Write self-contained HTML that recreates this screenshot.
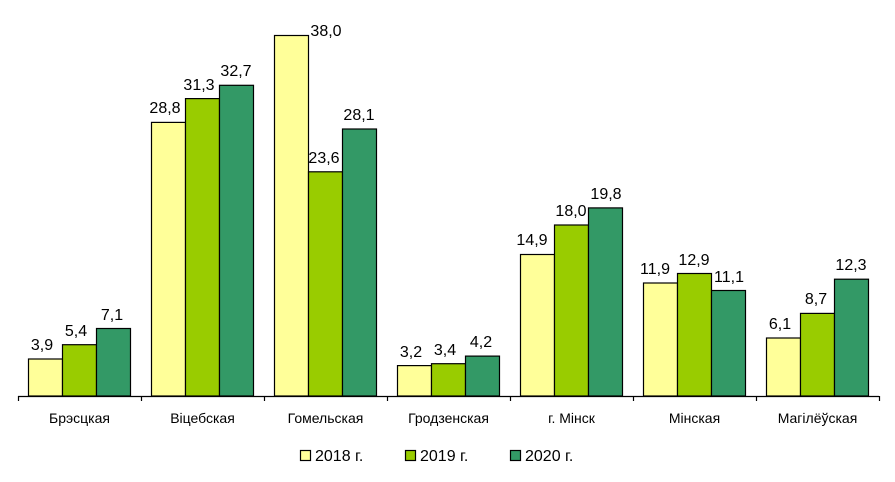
<!DOCTYPE html>
<html><head><meta charset="utf-8"><style>
html,body{margin:0;padding:0;background:#fff}
svg text{font-family:"Liberation Sans",Arial,sans-serif;fill:#000}
</style></head><body>
<svg width="895" height="477" xmlns="http://www.w3.org/2000/svg">
<g stroke="#000" stroke-width="1.2">
<rect x="28.5" y="359" width="34" height="37" fill="#FFFF99"/>
<rect x="62.5" y="344.7" width="34" height="51.3" fill="#99CC00"/>
<rect x="96.5" y="328.5" width="34" height="67.5" fill="#339966"/>
<rect x="151.5" y="122.4" width="34" height="273.6" fill="#FFFF99"/>
<rect x="185.5" y="98.6" width="34" height="297.4" fill="#99CC00"/>
<rect x="219.5" y="85.3" width="34" height="310.7" fill="#339966"/>
<rect x="274.5" y="35.5" width="34" height="360.5" fill="#FFFF99"/>
<rect x="308.5" y="171.8" width="34" height="224.2" fill="#99CC00"/>
<rect x="342.5" y="129" width="34" height="267" fill="#339966"/>
<rect x="397.5" y="365.6" width="34" height="30.4" fill="#FFFF99"/>
<rect x="431.5" y="363.7" width="34" height="32.3" fill="#99CC00"/>
<rect x="465.5" y="356.1" width="34" height="39.9" fill="#339966"/>
<rect x="520.5" y="254.5" width="34" height="141.5" fill="#FFFF99"/>
<rect x="554.5" y="225" width="34" height="171" fill="#99CC00"/>
<rect x="588.5" y="207.9" width="34" height="188.1" fill="#339966"/>
<rect x="643.5" y="283" width="34" height="113" fill="#FFFF99"/>
<rect x="677.5" y="273.5" width="34" height="122.5" fill="#99CC00"/>
<rect x="711.5" y="290.5" width="34" height="105.5" fill="#339966"/>
<rect x="766.5" y="338" width="34" height="58" fill="#FFFF99"/>
<rect x="800.5" y="313.4" width="34" height="82.6" fill="#99CC00"/>
<rect x="834.5" y="279.2" width="34" height="116.8" fill="#339966"/>
<line x1="18" y1="396.5" x2="879" y2="396.5"/>
<line x1="18.5" y1="396" x2="18.5" y2="401"/>
<line x1="141.5" y1="396" x2="141.5" y2="401"/>
<line x1="264.5" y1="396" x2="264.5" y2="401"/>
<line x1="387.5" y1="396" x2="387.5" y2="401"/>
<line x1="510.5" y1="396" x2="510.5" y2="401"/>
<line x1="633.5" y1="396" x2="633.5" y2="401"/>
<line x1="756.5" y1="396" x2="756.5" y2="401"/>
<line x1="879.5" y1="396" x2="879.5" y2="401"/>
<rect x="300.5" y="450.5" width="10" height="10" fill="#FFFF99"/>
<rect x="405.5" y="450.5" width="10" height="10" fill="#99CC00"/>
<rect x="510.5" y="450.5" width="10" height="10" fill="#339966"/>
</g>
<g font-size="16" text-anchor="middle">
<text x="42" y="350">3,9</text><text x="76" y="336">5,4</text><text x="112" y="320">7,1</text>
<text x="165" y="113">28,8</text><text x="199" y="90">31,3</text><text x="236" y="76">32,7</text>
<text x="326" y="36">38,0</text><text x="324" y="163">23,6</text><text x="359" y="120">28,1</text>
<text x="411" y="357">3,2</text><text x="445" y="355">3,4</text><text x="481" y="347">4,2</text>
<text x="532" y="245">14,9</text><text x="571" y="216">18,0</text><text x="606" y="199">19,8</text>
<text x="655" y="274">11,9</text><text x="694" y="265">12,9</text><text x="729" y="282">11,1</text>
<text x="780" y="329">6,1</text><text x="816" y="304">8,7</text><text x="851" y="270">12,3</text>
</g>
<g font-size="14" text-anchor="middle">
<text x="79.5" y="423">Брэсцкая</text>
<text x="202.5" y="423">Віцебская</text>
<text x="325.5" y="423">Гомельская</text>
<text x="448.5" y="423">Гродзенская</text>
<text x="571.5" y="423">г. Мінск</text>
<text x="694.5" y="423">Мінская</text>
<text x="817.5" y="423">Магілёўская</text>
</g>
<g font-size="16">
<text x="315" y="461">2018 г.</text>
<text x="420" y="461">2019 г.</text>
<text x="525" y="461">2020 г.</text>
</g>
</svg>
</body></html>
